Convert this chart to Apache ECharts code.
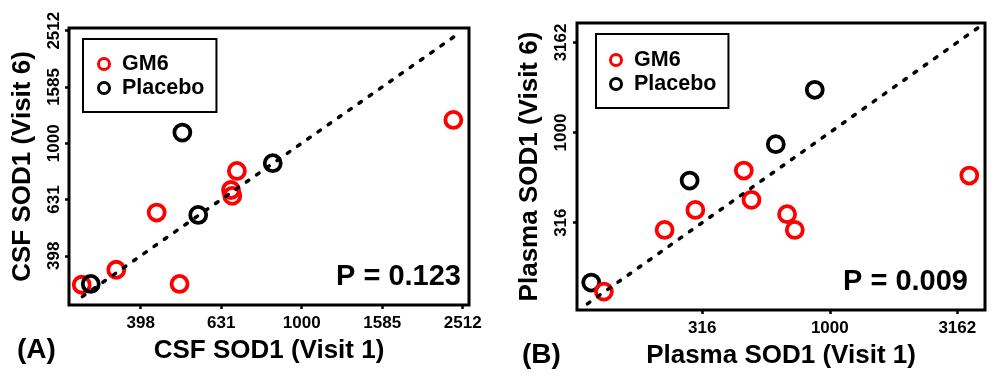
<!DOCTYPE html>
<html><head><meta charset="utf-8">
<script src="https://cdn.jsdelivr.net/npm/echarts@6/dist/echarts.min.js"></script>
<style>html,body{margin:0;padding:0;background:#fff}#c{width:1000px;height:386px}</style>
</head><body><div id="c"></div>
<script>
// ---- data ----
const csfTicks = [398, 631, 1000, 1585, 2512];
const plasmaTicks = [316, 1000, 3162];
const csfGM6 = [[284,314],[346,355],[436,567],[497,316],[667,682],[672,650],[690,797],[2381,1210]];
const csfPlacebo = [[299,316],[505,1091],[553,556],[847,849]];
const plasmaGM6 = [[130,131],[225,288],[297,372],[460,615],[493,423],[680,352],[729,288],[3524,577]];
const plasmaPlacebo = [[116,147],[282,541],[614,862],[873,1726]];
const csfIdentity = [[285,285],[2470,2470]];
const plasmaIdentity = [[112,112],[3850,3850]];
const csfXRange = [264, 2604], csfYRange = [266, 2568];
const plasmaXRange = [102, 4061], plasmaYRange = [103.5, 4053];
const pLabels = ['P = 0.123', 'P = 0.009'];
const panelLabels = ['(A)', '(B)'];
const legendNames = ['GM6', 'Placebo'];

const FONT = "'Liberation Sans', Arial, sans-serif";
const RED = '#ff0000', BLACK = '#000000';

function axis(gridIndex, range, ticks, isY, margin, name, nameGap) {
  return {
    type: 'log', logBase: 10, gridIndex: gridIndex,
    min: range[0], max: range[1],
    name: name, nameLocation: 'middle', nameGap: nameGap,
    nameTextStyle: {fontFamily: FONT, fontWeight: 'bold', fontSize: 26, color: BLACK},
    axisLine: {show: false},
    splitLine: {show: false},
    minorTick: {show: false},
    axisTick: {show: true, inside: false, length: 4, lineStyle: {color: BLACK, width: 2.5}, customValues: ticks},
    axisLabel: {show: true, customValues: ticks, margin: margin, rotate: isY ? 90 : 0,
      fontFamily: FONT, fontWeight: 'bold', fontSize: 17, color: BLACK,
      formatter: v => String(Math.round(v))}
  };
}

function scatter(name, data, idx, color) {
  return {
    type: 'scatter', name: name, data: data, xAxisIndex: idx, yAxisIndex: idx,
    symbol: 'circle', symbolSize: 16, silent: true,
    itemStyle: {color: 'rgba(255,255,255,0)', borderColor: color, borderWidth: 3.8, opacity: 1}
  };
}
function identity(data, idx) {
  return {
    type: 'line', data: data, xAxisIndex: idx, yAxisIndex: idx, symbol: 'none', silent: true, z: 5,
    lineStyle: {color: BLACK, width: 3.5, type: [3, 9.5], cap: 'round'}
  };
}
function legend(left, top, padding) {
  return {
    show: true, orient: 'vertical', left: left, top: top, padding: padding,
    itemWidth: 26, itemHeight: 11, itemGap: 0, icon: 'circle',
    borderColor: BLACK, borderWidth: 2, selectedMode: false,
    itemStyle: {borderWidth: 3},
    textStyle: {fontFamily: FONT, fontWeight: 'bold', fontSize: 21.5, lineHeight: 24, color: BLACK},
    data: legendNames.map(n => ({name: n}))
  };
}

const chart = echarts.init(document.getElementById('c'), null, {renderer: 'canvas'});
chart.setOption({
  animation: false,
  backgroundColor: '#fff',
  grid: [
    {left: 69, top: 28, width: 400, height: 277, show: true, borderColor: BLACK, borderWidth: 3, containLabel: false},
    {left: 577, top: 23, width: 408, height: 287, show: true, borderColor: BLACK, borderWidth: 3, containLabel: false}
  ],
  xAxis: [
    axis(0, csfXRange, csfTicks, false, 10, 'CSF SOD1 (Visit 1)', 33),
    axis(1, plasmaXRange, plasmaTicks, false, 10, 'Plasma SOD1 (Visit 1)', 33)
  ],
  yAxis: [
    axis(0, csfYRange, csfTicks, true, 6, 'CSF SOD1 (Visit 6)', 33),
    axis(1, plasmaYRange, plasmaTicks, true, 7, 'Plasma SOD1 (Visit 6)', 34)
  ],
  legend: [
    legend(83, 39, [13, 12, 12, 14]),
    legend(596, 34, [14, 12, 12, 13])
  ],
  series: [
    scatter('GM6', csfGM6, 0, RED),
    scatter('Placebo', csfPlacebo, 0, BLACK),
    identity(csfIdentity, 0),
    scatter('Placebo', plasmaPlacebo, 1, BLACK),
    scatter('GM6', plasmaGM6, 1, RED),
    identity(plasmaIdentity, 1)
  ],
  graphic: [
    {type: 'text', left: 17, top: 336, style: {text: panelLabels[0], font: "bold 28px " + FONT, fill: BLACK}},
    {type: 'text', left: 522, top: 341, style: {text: panelLabels[1], font: "bold 28px " + FONT, fill: BLACK}},
    {type: 'text', right: 1000 - 461, top: 262, style: {text: pLabels[0], font: "bold 29px " + FONT, fill: BLACK}},
    {type: 'text', right: 1000 - 968, top: 267, style: {text: pLabels[1], font: "bold 29px " + FONT, fill: BLACK}}
  ]
});
</script></body></html>
